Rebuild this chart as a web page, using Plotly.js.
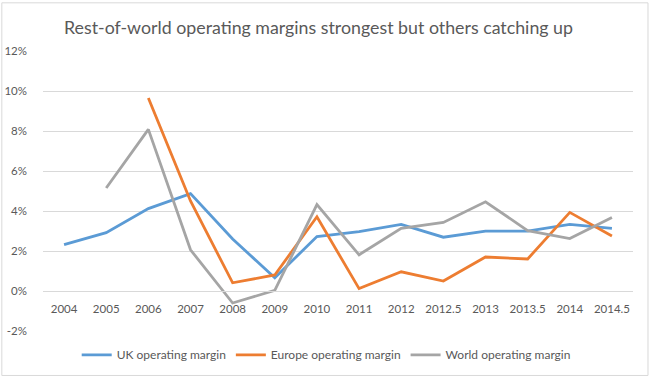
<!DOCTYPE html>
<html>
<head>
<meta charset="utf-8">
<script src="https://cdn.plot.ly/plotly-3.0.1.min.js"></script>
<style>html,body{margin:0;padding:0;background:#fff;}#chart{width:650px;height:381px;}</style>
</head>
<body>
<div id="chart"></div>
<script>
const categories = ['2004','2005','2006','2007','2008','2009','2010','2011','2012','2012.5','2013','2013.5','2014','2014.5'];
const ukMargin = [2.32, 2.92, 4.12, 4.87, 2.6, 0.66, 2.72, 2.97, 3.33, 2.69, 2.99, 2.99, 3.33, 3.13];
const europeMargin = [null, null, 9.65, 4.5, 0.41, 0.8, 3.71, 0.12, 0.96, 0.5, 1.7, 1.6, 3.93, 2.75];
const worldMargin = [null, 5.15, 8.08, 2.06, -0.6, 0.03, 4.32, 1.81, 3.13, 3.43, 4.46, 3.02, 2.62, 3.68];
const seriesNames = ['UK operating margin', 'Europe operating margin', 'World operating margin'];
const yTickVals = [-2, 0, 2, 4, 6, 8, 10, 12];
const yTickText = ['-2%', '0%', '2%', '4%', '6%', '8%', '10%', '12%'];

const colors = ['#5B9BD5', '#ED7D31', '#A5A5A5'];
const font = 'Lato, "Liberation Sans", Arial, sans-serif';
const traces = [ukMargin, europeMargin, worldMargin].map((vals, i) => ({
  type: 'scatter', mode: 'lines', name: seriesNames[i],
  x: categories, y: vals,
  line: {color: colors[i], width: 2.8, shape: 'linear'},
  connectgaps: false, hoverinfo: 'x+y'
}));

const layout = {
  width: 650, height: 381,
  margin: {l: 43, r: 17, t: 51, b: 47},
  paper_bgcolor: '#ffffff', plot_bgcolor: '#ffffff',
  font: {family: font, color: '#595959', size: 12},
  title: {text: 'Rest-of-world operating margins strongest but others catching up',
          font: {family: font, size: 17.8, color: '#595959'},
          x: 0.49, xanchor: 'center', y: 0.928, yanchor: 'middle'},
  xaxis: {type: 'category', anchor: 'free', position: 2/14,
          showgrid: false, zeroline: false,
          showline: true, linecolor: '#d9d9d9', linewidth: 1,
          ticks: '', ticklabelstandoff: 7,
          tickfont: {family: font, size: 11.5, color: '#595959'},
          range: [-0.5, 13.5]},
  yaxis: {range: [-2, 12], tickvals: yTickVals, ticktext: yTickText,
          showgrid: true, gridcolor: '#d9d9d9', gridwidth: 1,
          zeroline: false, showline: false, ticks: '', ticklabelstandoff: 15,
          tickfont: {family: font, size: 11.5, color: '#595959'}},
  showlegend: true,
  legend: {orientation: 'h', x: 0.48, xanchor: 'center', y: -0.085, yanchor: 'middle',
           font: {family: font, size: 12, color: '#595959'}, traceorder: 'normal',
           itemwidth: 30, bgcolor: 'rgba(0,0,0,0)'},
  shapes: [{type: 'rect', xref: 'paper', yref: 'paper',
            x0: -0.0698, x1: 1.0254, y0: -0.1588, y1: 1.172,
            line: {color: '#d9d9d9', width: 1}, layer: 'below'}]
};

Plotly.newPlot('chart', traces, layout, {displayModeBar: false, staticPlot: true});
</script>
</body>
</html>
